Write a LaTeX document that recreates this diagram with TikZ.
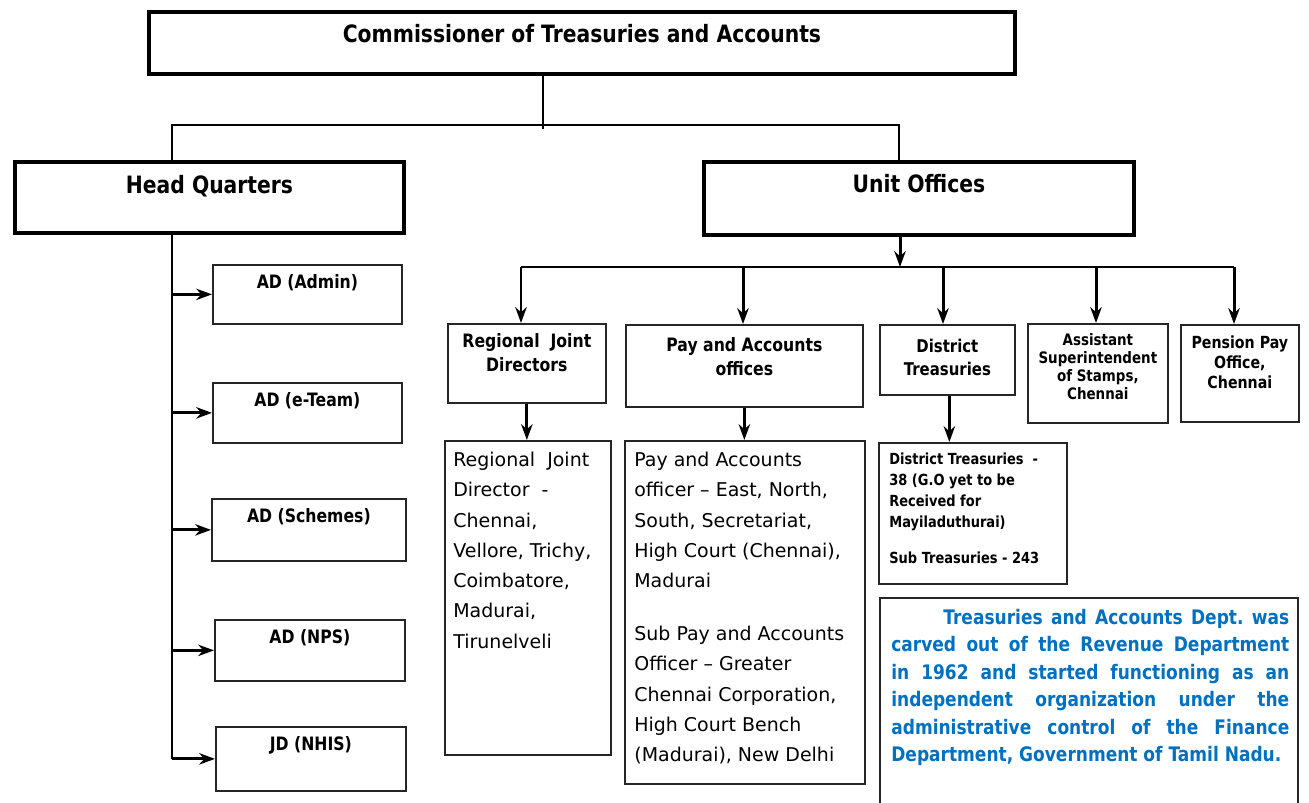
\documentclass[tikz,border=0pt]{standalone}
\usepackage{fontspec}
\setmainfont{DejaVu Sans}
\newfontfamily\condfont[FakeStretch=0.85]{DejaVu Sans}
\usepackage{tikz}
\usetikzlibrary{arrows.meta, positioning, calc}

\definecolor{noteblue}{RGB}{0,112,192}

\begin{document}
\frenchspacing
\begin{tikzpicture}[x=0.02cm, y=-0.02cm, >=Stealth,
  bigbox/.style={draw, line width=2.3pt, anchor=north west, inner sep=0pt},
  box/.style={draw=black!85, line width=1pt, anchor=north west, inner sep=0pt},
  conn/.style={line width=1.7pt},
  arr/.style={conn, -{Stealth[length=9pt, width=6.5pt]}},
  hd/.style={font=\condfont\bfseries\fontsize{13.6}{15}\selectfont, inner sep=0pt},
  sub/.style={font=\condfont\bfseries\fontsize{10.5}{13.5}\selectfont, inner sep=0pt, align=center},
  body/.style={font=\fontsize{10.8}{17.2}\selectfont, inner sep=0pt, align=left, anchor=north west}]

\useasboundingbox (0,0) rectangle (1309,803);

%-- top level
\node[bigbox, minimum width=17.32cm, minimum height=1.24cm] (comm) at (147,10) {};
\node[hd, below=8pt of comm.north] (commt) {Commissioner of Treasuries and Accounts};

\node[bigbox, minimum width=7.78cm, minimum height=1.42cm] (hq) at (13,160) {};
\node[hd, below=8.5pt of hq.north] (hqt) {Head Quarters};

\node[bigbox, minimum width=8.6cm, minimum height=1.46cm] (uo) at (702,160) {};
\node[hd, below=8pt of uo.north] (uot) {Unit Offices};

\coordinate (trunk) at (543,129);
\coordinate (bl) at (172,125);
\coordinate (br) at (899,125);
\draw[conn, line width=1.2pt] (comm.south -| trunk) -- (trunk);
\draw[conn, line width=1.3pt] (hq.north -| bl) |- (br) -- (uo.north -| br);

%-- head quarters branch
\foreach \nm/\xx/\yy/\ww/\hh/\txt in {
    adm/212/264/3.78/1.18/AD (Admin),
    ete/212/382/3.78/1.2/AD (e-Team),
    sch/211/498/3.88/1.24/AD (Schemes),
    nps/214/619/3.8/1.22/AD (NPS),
    nhis/215/726/3.8/1.28/JD (NHIS)}{
  \node[box, minimum width=\ww cm, minimum height=\hh cm] (\nm) at (\xx,\yy) {};
  \node[sub, below=6pt of \nm.north] {\txt};
}

\coordinate (spine) at (172,0);
\draw[conn] (hq.south -| spine) -- (spine |- nhis.west);
\foreach \nm in {adm,ete,sch,nps,nhis}
  \draw[arr] (spine |- \nm.west) -- (\nm.west);

%-- unit offices branch
\node[box, minimum width=3.16cm, minimum height=1.58cm] (rjd) at (447,323) {};
\node[sub, below=6pt of rjd.north] {Regional\ \ Joint\\Directors};

\node[box, minimum width=4.74cm, minimum height=1.64cm] (pao) at (625,324) {};
\node[sub, below=7.4pt of pao.north] {Pay and Accounts\\offices};

\node[box, minimum width=2.7cm, minimum height=1.4cm] (dt) at (879,324) {};
\node[sub, font=\condfont\bfseries\fontsize{10}{13}\selectfont, below=8.5pt of dt.north] {District\\Treasuries};

\node[box, minimum width=2.8cm, minimum height=1.98cm] (ass) at (1027,323) {};
\node[sub, font=\condfont\bfseries\fontsize{9}{10.3}\selectfont, below=5.7pt of ass.north]
  {Assistant\\Superintendent\\of Stamps,\\Chennai};

\node[box, minimum width=2.36cm, minimum height=1.94cm] (ppo) at (1180,324) {};
\node[sub, font=\condfont\bfseries\fontsize{9.5}{11.4}\selectfont, below=6.3pt of ppo.north]
  {Pension Pay\\Office,\\Chennai};

\coordinate (uoj) at (900,267);
\coordinate (d1) at (521,267);
\coordinate (d2) at (743,267);
\coordinate (d3) at (943,267);
\coordinate (d4) at (1096,267);
\coordinate (d5) at (1234,267);
\draw[arr] (uo.south -| uoj) -- (uoj);
\draw[conn] (d1) -- (d5);
\draw[arr] (d1) -- (d1 |- rjd.north);
\draw[arr] (d2) -- (d2 |- pao.north);
\draw[arr] (d3) -- (d3 |- dt.north);
\draw[arr] (d4) -- (d4 |- ass.north);
\draw[arr] (d5) -- (d5 |- ppo.north);

%-- detail boxes
\node[box, line width=0.9pt, minimum width=3.32cm, minimum height=6.28cm] (rjdd) at (444,440) {};
\node[body] at (453,452)
  {Regional\ \ Joint\\Director\ \ -\\Chennai,\\Vellore, Trichy,\\Coimbatore,\\Madurai,\\Tirunelveli};

\node[box, line width=0.9pt, minimum width=4.8cm, minimum height=6.86cm] (paod) at (624,440) {};
\node[body] at (634,452)
  {Pay and Accounts\\officer – East, North,\\South, Secretariat,\\High Court (Chennai),\\Madurai\\[13pt]
   Sub Pay and Accounts\\Officer – Greater\\Chennai Corporation,\\High Court Bench\\(Madurai), New Delhi};

\node[box, line width=0.9pt, minimum width=3.76cm, minimum height=2.82cm] (dtd) at (878,442) {};
\node[body, font=\condfont\bfseries\fontsize{8.7}{11.8}\selectfont] at (889,453)
  {District Treasuries\ \ -\\38 (G.O yet to be\\Received for\\Mayiladuthurai)\\[9pt]Sub Treasuries - 243};

\draw[arr] (rjd.south) -- (rjd.south |- rjdd.north);
\draw[arr] (pao.south) -- (pao.south |- paod.north);
\draw[arr] ($(dt.south)+(2,0)$) -- ($(dt.south |- dtd.north)+(2,0)$);

%-- note on the department
\draw[draw=black!85, line width=0.9pt] (880,803) |- (1298,598) -- (1298,803);
\node[body, text width=7.96cm, align=justify, text=noteblue,
      font=\condfont\bfseries\fontsize{11.4}{15.6}\selectfont] (note) at (891,609)
  {\hspace*{1.04cm}Treasuries and Accounts Dept. was\linebreak
   carved out of the Revenue Department\linebreak
   in 1962 and started functioning as an\linebreak
   independent organization under the\linebreak
   administrative control of the Finance\linebreak
   Department, Government of Tamil Nadu.};

\end{tikzpicture}
\end{document}
